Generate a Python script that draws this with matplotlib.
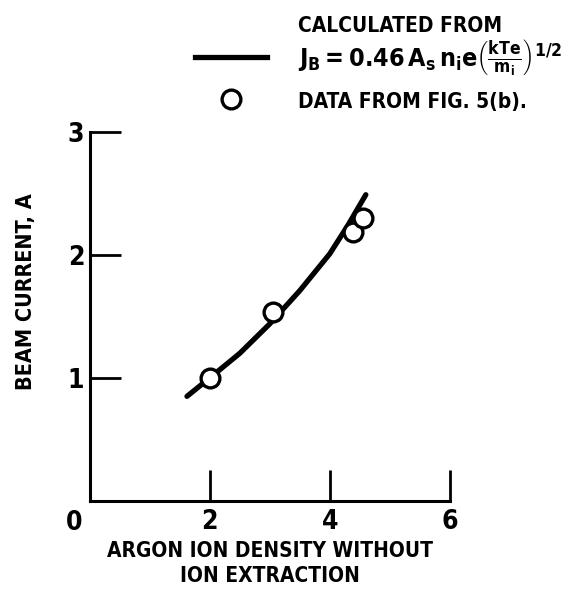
import matplotlib.pyplot as plt
from matplotlib.lines import Line2D

plt.rcParams['font.family'] = ['DejaVu Sans']
plt.rcParams['font.stretch'] = 'condensed'
plt.rcParams['font.weight'] = 'bold'
plt.rcParams['axes.labelweight'] = 'bold'
plt.rcParams['mathtext.fontset'] = 'custom'
plt.rcParams['mathtext.rm'] = 'DejaVu Sans:bold'
plt.rcParams['mathtext.it'] = 'DejaVu Sans:bold'
plt.rcParams['mathtext.bf'] = 'DejaVu Sans:bold'

# calculated curve
calc_x = [1.62, 2.0, 2.5, 3.0, 3.5, 4.0, 4.3, 4.6]
calc_y = [0.85, 1.0, 1.2, 1.44, 1.71, 2.01, 2.24, 2.49]

# measured data
data_x = [2.0, 3.05, 4.38, 4.55]
data_y = [1.0, 1.54, 2.19, 2.3]

xticks = [0, 2, 4, 6]
yticks = [0, 1, 2, 3]

fig = plt.figure(figsize=(5.68, 5.92), dpi=100)
ax = fig.add_axes([0.158, 0.154, 0.634, 0.623])

ax.plot(calc_x, calc_y, color='black', linewidth=3.8, solid_capstyle='round')
ax.plot(data_x, data_y, 'o', markersize=13.5, markerfacecolor='white',
        markeredgecolor='black', markeredgewidth=2.4)

ax.set_xlim(0, 6)
ax.set_ylim(0, 3)
for s in ['top', 'right']:
    ax.spines[s].set_visible(False)
for s in ['left', 'bottom']:
    ax.spines[s].set_linewidth(2.2)

ax.set_xticks(xticks)
ax.set_xticklabels([''] + [str(t) for t in xticks[1:]])
ax.set_yticks(yticks)
ax.set_yticklabels([''] + [str(t) for t in yticks[1:]])
ax.tick_params(direction='in', length=22, width=2, labelsize=19, pad=6)
ax.tick_params(axis='y', pad=4)
ax.text(-0.042, -0.025, '0', transform=ax.transAxes, ha='center', va='top', fontsize=19)

ax.set_xlabel('ARGON ION DENSITY WITHOUT\nION EXTRACTION', fontsize=15, labelpad=4,
              linespacing=1.3)
ax.set_ylabel('BEAM CURRENT, A', fontsize=15.5)
ax.yaxis.set_label_coords(-0.15, 0.566)

# legend
fig.text(298 / 568, 1 - 26 / 592, 'CALCULATED FROM', fontsize=15, ha='left', va='center')
handles = [
    Line2D([], [], color='black', linewidth=3.8),
    Line2D([], [], linestyle='none', marker='o', markersize=13.5, markerfacecolor='white',
           markeredgecolor='black', markeredgewidth=2.4),
]
labels = [
    r'$J_B = 0.46\,A_s\,n_i e\left(\frac{kTe}{m_i}\right)^{1/2}$',
    'DATA FROM FIG. 5(b).',
]
leg = fig.legend(handles, labels, loc='upper left', bbox_to_anchor=(0.325, 0.955),
                 frameon=False, fontsize=18, handlelength=2.9, handletextpad=1.25,
                 labelspacing=0.55, borderaxespad=0.0)
leg.get_texts()[1].set_fontsize(15)

fig.savefig('out.png', dpi=100)
plt.close(fig)
